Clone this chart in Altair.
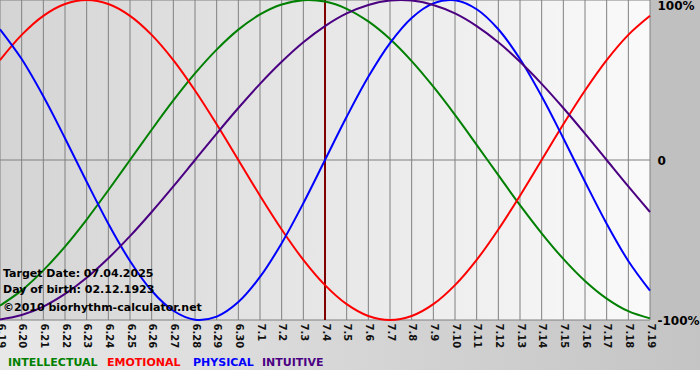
import altair as alt
import pandas as pd

# ---- data ----
days = ["6.19", "6.20", "6.21", "6.22", "6.23", "6.24", "6.25", "6.26", "6.27", "6.28",
        "6.29", "6.30", "7.1", "7.2", "7.3", "7.4", "7.5", "7.6", "7.7", "7.8",
        "7.9", "7.10", "7.11", "7.12", "7.13", "7.14", "7.15", "7.16", "7.17", "7.18", "7.19"]

intellectual = [-0.910, -0.815, -0.690, -0.541, -0.372, -0.189, 0.000, 0.189, 0.372, 0.541,
                0.690, 0.815, 0.910, 0.972, 0.999, 0.990, 0.945, 0.866, 0.756, 0.618,
                0.458, 0.282, 0.095, -0.095, -0.282, -0.458, -0.618, -0.756, -0.866, -0.945, -0.990]
emotional = [0.624, 0.782, 0.901, 0.975, 1.000, 0.975, 0.901, 0.782, 0.624, 0.434,
             0.223, 0.000, -0.223, -0.434, -0.624, -0.782, -0.901, -0.975, -1.000, -0.975,
             -0.901, -0.782, -0.624, -0.434, -0.223, 0.000, 0.223, 0.434, 0.624, 0.782, 0.901]
physical = [0.817, 0.631, 0.398, 0.136, -0.136, -0.398, -0.631, -0.817, -0.942, -0.998,
            -0.979, -0.888, -0.731, -0.520, -0.270, 0.000, 0.270, 0.520, 0.731, 0.888,
            0.979, 0.998, 0.942, 0.817, 0.631, 0.398, 0.136, -0.136, -0.398, -0.631, -0.817]
intuitive = [-0.997, -0.969, -0.916, -0.837, -0.736, -0.614, -0.476, -0.325, -0.165, 0.000,
             0.165, 0.325, 0.476, 0.614, 0.736, 0.837, 0.916, 0.969, 0.997, 0.997,
             0.969, 0.916, 0.837, 0.736, 0.614, 0.476, 0.325, 0.165, 0.000, -0.165, -0.325]

series_names = ["INTELLECTUAL", "EMOTIONAL", "PHYSICAL", "INTUITIVE"]
series_colors = ["#008000", "#ff0000", "#0000ff", "#4b0082"]
y_ticks = [1, 0, -1]
y_tick_labels = ["100%", "0", "-100%"]
target_day = "7.4"
info_lines = ["Target Date: 07.04.2025", "Day of birth: 02.12.1923", "\u00a92010 biorhythm-calculator.net"]

rows = []
for name, vals in zip(series_names, [intellectual, emotional, physical, intuitive]):
    for d, v in zip(days, vals):
        rows.append({"day": d, "series": name, "value": v})
df = pd.DataFrame(rows)

W, H = 650, 320
FONT = "DejaVu Sans"

label_expr = " : ".join(
    f"datum.value == {v} ? '{t}'" for v, t in zip(y_ticks[:-1], y_tick_labels[:-1])
) + f" : '{y_tick_labels[-1]}'"

x_scale = alt.Scale(type="point", padding=0)
x_axis = alt.Axis(title=None, labelAngle=90, ticks=False, domain=False, grid=False,
                  labelFont=FONT, labelFontWeight="bold", labelFontSize=10,
                  labelColor="#111111", labelPadding=3, labelOverlap=False,
                  labelFlush=False, labelBound=False, zindex=1)
y_scale = alt.Scale(domain=[-1, 1], nice=False, zero=False)
y_axis = alt.Axis(title=None, orient="right", values=y_ticks, labelExpr=label_expr,
                  ticks=False, domain=False, grid=False, labelFont=FONT,
                  labelFontWeight="bold", labelFontSize=12, labelColor="#000000",
                  labelPadding=7, labelFlush=False,
                  labelBaseline={"condition": {"test": "datum.value == 1", "value": "top"},
                                 "value": "middle"},
                  zindex=1)

X = alt.X("day:O", sort=days, scale=x_scale, axis=x_axis)
one = alt.Data(values=[{}])

def hgrad(c0, c1):
    return alt.Gradient(gradient="linear",
                        stops=[alt.GradientStop(color=c0, offset=0),
                               alt.GradientStop(color=c1, offset=1)],
                        x1=0, x2=1, y1=0, y2=0)

plot_bg = alt.Chart(one).mark_rect(color=hgrad("#d4d4d4", "#fafafa")).encode(
    x=alt.value(0), x2=alt.value(W), y=alt.value(0), y2=alt.value(H))
right_bg = alt.Chart(one).mark_rect(color="#c0c0c0").encode(
    x=alt.value(W), x2=alt.value(700), y=alt.value(0), y2=alt.value(H))
bottom_bg = alt.Chart(one).mark_rect(color=hgrad("#e8e8e8", "#c4c4c4")).encode(
    x=alt.value(0), x2=alt.value(700), y=alt.value(H), y2=alt.value(370))

vgrid = alt.Chart(pd.DataFrame({"day": days})).mark_rule(color="#808080", strokeWidth=1).encode(x=X)
hgrid = alt.Chart(pd.DataFrame({"v": y_ticks})).mark_rule(color="#808080", strokeWidth=1).encode(
    y=alt.Y("v:Q", scale=y_scale, axis=y_axis))

target = alt.Chart(pd.DataFrame({"day": [target_day]})).mark_rule(
    color="#800000", strokeWidth=2).encode(x=X)

lines = alt.Chart(df).mark_line(strokeWidth=2, interpolate="catmull-rom").encode(
    x=X,
    y=alt.Y("value:Q", scale=y_scale, axis=y_axis),
    color=alt.Color("series:N", scale=alt.Scale(domain=series_names, range=series_colors), legend=None),
    detail="series:N",
)

info_y = [277, 293, 311]
info_layers = [
    alt.Chart(one).mark_text(text=t, align="left", baseline="alphabetic", font=FONT,
                             fontWeight="bold", fontSize=11, color="#000000").encode(
        x=alt.value(3), y=alt.value(yy))
    for t, yy in zip(info_lines, info_y)
]

legend_x = [8, 107, 193, 262]
legend_layers = [
    alt.Chart(one).mark_text(text=n, align="left", baseline="alphabetic", font=FONT,
                             fontWeight="bold", fontSize=11, color=c).encode(
        x=alt.value(xx), y=alt.value(366))
    for n, c, xx in zip(series_names, series_colors, legend_x)
]

chart = alt.layer(plot_bg, right_bg, bottom_bg, vgrid, hgrid, target, lines,
                  *info_layers, *legend_layers).properties(
    width=W, height=H,
    autosize=alt.AutoSizeParams(type="none"),
    padding={"left": 0, "top": 0, "right": 50, "bottom": 60},
    background="white",
).configure_view(strokeWidth=0)

chart.save("out.html", embed_options={"renderer": "svg", "actions": False})
